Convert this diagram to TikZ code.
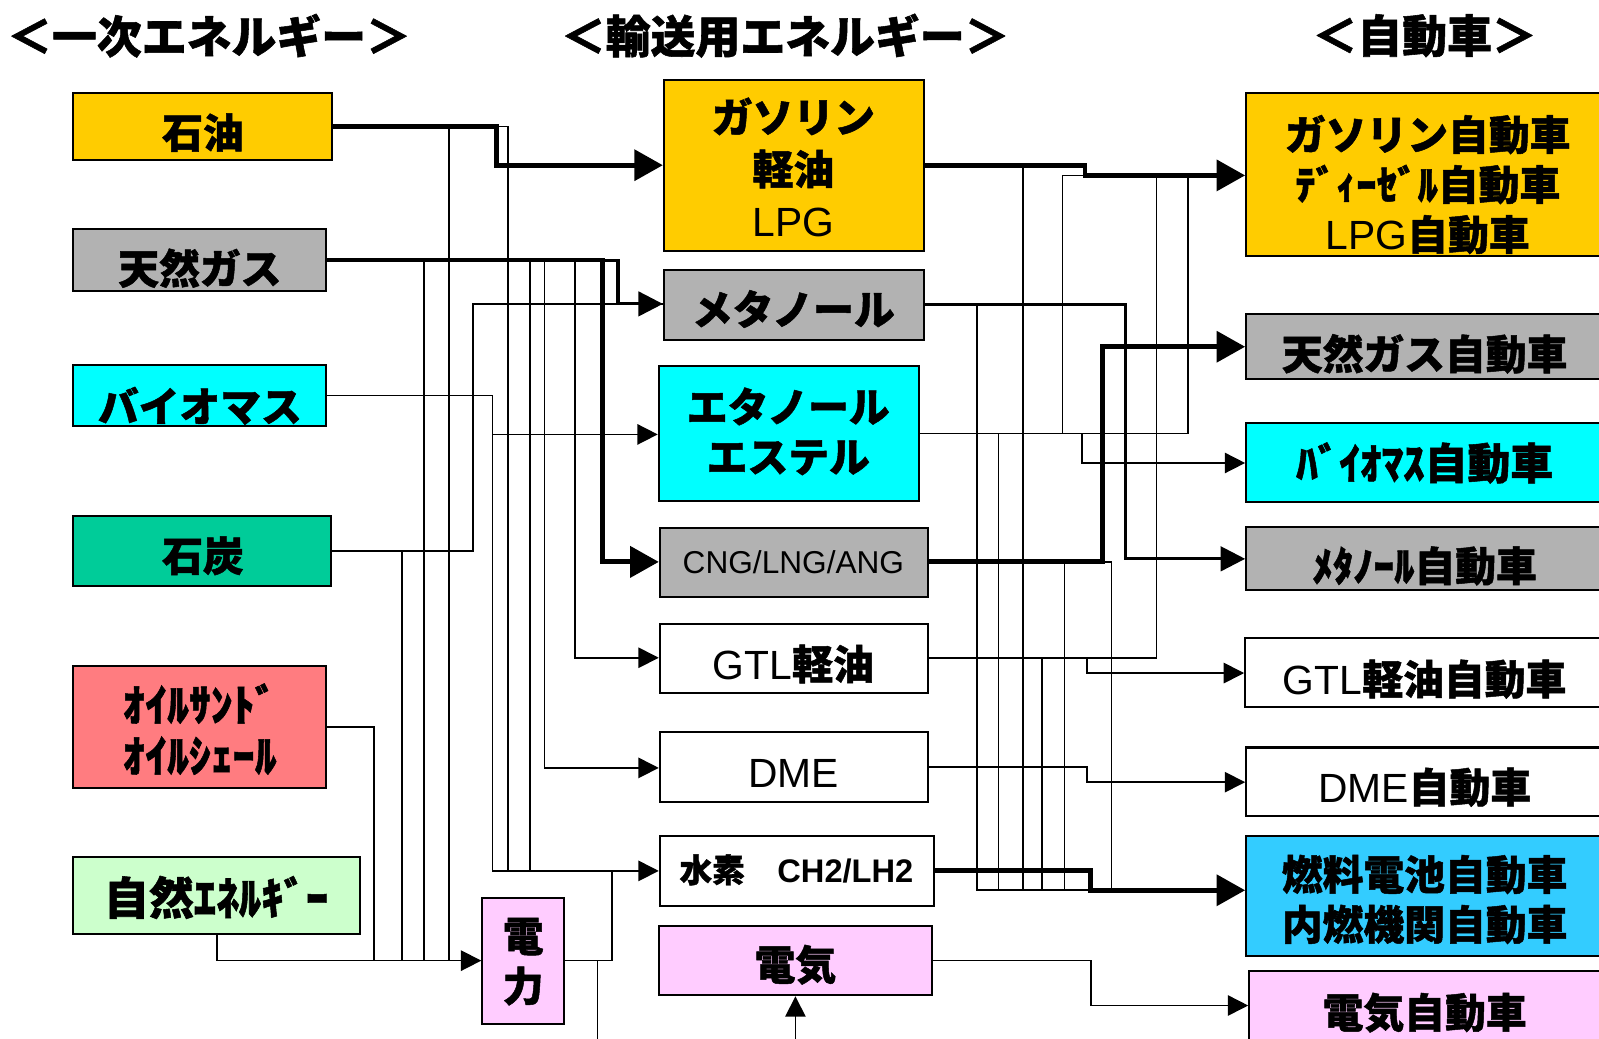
\documentclass[tikz,border=0pt]{standalone}
\usepackage{fontspec}
\setmainfont{Noto Sans CJK JP}[BoldFeatures={FakeBold=1.2}]
\newfontfamily\arial{Liberation Sans}
\usetikzlibrary{arrows.meta,fit}
\definecolor{cYel}{HTML}{FFCC00}
\definecolor{cGry}{HTML}{B2B2B2}
\definecolor{cCyn}{HTML}{00FFFF}
\definecolor{cTeal}{HTML}{00CC99}
\definecolor{cSal}{HTML}{FF7C80}
\definecolor{cLgr}{HTML}{CCFFCC}
\definecolor{cPnk}{HTML}{FFCCFF}
\definecolor{cBlu}{HTML}{33CCFF}
\tikzset{
  box/.style={draw=black,line width=1pt,inner sep=0pt},
  txt/.style={inner sep=0pt,align=center,font=\bfseries\fontsize{20}{24.5}\selectfont},
  ttl/.style={inner sep=0pt,font=\bfseries\fontsize{22}{26}\selectfont},
  tl/.style={line width=0.8pt},
  tk/.style={line width=2.4pt},
  md/.style={line width=1.5pt},
  atl/.style={tl,-{Triangle[length=10pt,width=10pt]}},
  atk/.style={tk,-{Triangle[length=14pt,width=15pt]}},
  amd/.style={md,-{Triangle[length=12pt,width=12pt]}},
}
\begin{document}
\begin{tikzpicture}[x=0.5pt,y=-0.5pt]
\useasboundingbox (0,0) rectangle (1568,1018);
\fill[white] (0,0) rectangle (1568,1018);

% titles
\node[ttl] (t1) at (205,35) {＜一次エネルギー＞};
\node[ttl] (t2) at (770,35) {＜輸送用エネルギー＞};
\node[ttl] (t3) at (1397,35) {＜自動車＞};

% left column
\node[box,fill=cYel,fit={(72,91)(326,157)}] (oil) {};
\node[box,fill=cGry,fit={(72,225)(320,285)}] (ng) {};
\node[box,fill=cCyn,fit={(72,358)(320,418)}] (bio) {};
\node[box,fill=cTeal,fit={(72,506)(325,575)}] (coal) {};
\node[box,fill=cSal,fit={(72,653)(320,773)}] (sand) {};
\node[box,fill=cLgr,fit={(72,840)(353,916)}] (nat) {};
\node[box,fill=cPnk,fit={(473,881)(553,1004)}] (pow) {};

% middle column
\node[box,fill=cYel,fit={(651,78)(906,246)}] (gas) {};
\node[box,fill=cGry,fit={(651,265)(906,333)}] (meth) {};
\node[box,fill=cCyn,fit={(646,359)(901,491)}] (eth) {};
\node[box,fill=cGry,fit={(647,518)(910,585)}] (cng) {};
\node[box,fill=white,fit={(647,612)(910,680)}] (gtl) {};
\node[box,fill=white,fit={(647,718)(910,786)}] (dme) {};
\node[box,fill=white,fit={(647,820)(916,888)}] (h2) {};
\node[box,fill=cPnk,fit={(646,908)(914,976)}] (ele) {};

% right column
\node[box,fill=cYel,fit={(1222,91)(1572,251)}] (cgas) {};
\node[box,fill=cGry,fit={(1222,308)(1572,372)}] (cng2) {};
\node[box,fill=cCyn,fit={(1222,415)(1572,492)}] (cbio) {};
\node[box,fill=cGry,fit={(1222,517)(1572,579)}] (cmeth) {};
\node[box,fill=white,fit={(1221,626)(1572,693)}] (cgtl) {};
\node[box,fill=white,fit={(1222,733)(1572,800)}] (cdme) {};
\node[box,fill=cBlu,fit={(1222,820)(1572,937)}] (cfc) {};
\node[box,fill=cPnk,fit={(1225,952)(1572,1040)}] (cele) {};

% texts
\node[txt] (oilT) at (199,130) {石油};
\node[txt] (ngT) at (196,263) {天然ガス};
\node[txt] (bioT) at (196,398) {バイオマス};
\node[txt] (coalT) at (199,545) {石炭};
\node[txt,font=\bfseries\fontsize{21.5}{25}\selectfont] (sandT) at (196,715) {ｵｲﾙｻﾝﾄﾞ\\ｵｲﾙｼｪｰﾙ};
\node[txt,font=\bfseries\fontsize{22}{25}\selectfont] (natT) at (212,880) {自然ｴﾈﾙｷﾞｰ};
\node[txt] (powT) at (513,943) {電\\力};

\node[txt,font=\bfseries\fontsize{20}{25.5}\selectfont] (gasT) at (778,164) {ガソリン\\軽油\\{\arial\mdseries LPG}};
\node[txt] (methT) at (778,303) {メタノール};
\node[txt] (ethT) at (773,423) {エタノール\\エステル};
\node[txt,font=\arial\fontsize{15.5}{18}\selectfont] (cngT) at (778,551) {CNG/LNG/ANG};
\node[txt] (gtlT) at (778,651) {{\arial\mdseries GTL}軽油};
\node[txt] (dmeT) at (778,758) {\arial\mdseries DME};
\node[txt,font=\bfseries\fontsize{16}{19}\selectfont] (h2T) at (781,853) {水素　{\arial CH2/LH2}};
\node[txt] (eleT) at (780,946) {電気};

\node[txt] (cgasT) at (1400,181) {ガソリン自動車\\ﾃﾞｨｰｾﾞﾙ自動車\\{\arial\mdseries LPG}自動車};
\node[txt] (cng2T) at (1397,347) {天然ガス自動車};
\node[txt,font=\bfseries\fontsize{21}{25}\selectfont] (cbioT) at (1397,454) {ﾊﾞｲｵﾏｽ自動車};
\node[txt] (cmethT) at (1397,555) {ﾒﾀﾉｰﾙ自動車};
\node[txt] (cgtlT) at (1397,666) {{\arial\mdseries GTL}軽油自動車};
\node[txt] (cdmeT) at (1397,772) {{\arial\mdseries DME}自動車};
\node[txt] (cfcT) at (1397,882) {燃料電池自動車\\内燃機関自動車};
\node[txt] (celeT) at (1397,993) {電気自動車};

% ---- primary -> transport fuels
\draw[tl] (oil.east) -| (498,854);
\draw[tl] (oil.east) -| (440,942);
\draw[atk] (oil.east) -| (487,162) -- (gas.west |- 0,162);
\draw[tl] (ng.east) -| (416,942);
\draw[tl] (ng.east) -| (520,854);
\draw[atl] (ng.east) -| (534,753) -- (dme.west |- 0,753);
\draw[atl] (ng.east) -| (564,645) -- (gtl.west |- 0,645);
\draw[tl] (coal.east) -| (464,298) -- (meth.west |- 0,298);
\draw[amd] (ng.east) -| (606,298) -- (meth.west |- 0,298);
\draw[atk] (ng.east) -| (591,551) -- (cng.west |- 0,551);
\draw[atl] (bio.east) -| (483,426) -- (eth.west |- 0,426);
\draw[atl] (bio.east) -| (483,854) -- (h2.west |- 0,854);
\draw[tl] (coal.east) -| (394,942);
\draw[tl] (sand.east) -| (367,942);
\draw[atl] (nat.south) |- (pow.west |- 0,942);
\draw[tl] (pow.east |- 0,942) -| (600,854);
\coordinate (pdown) at (586,1030);
\draw[tl] (pow.east |- 0,942) -| (pdown);
\coordinate (ebot) at (780,1030);
\draw[atl] (ebot) -- (ele.south);

% ---- transport fuels -> vehicles
\draw[tl] (gas.east |- 0,162) -| (1003,873);
\draw[atk] (gas.east |- 0,162) -| (1064,172) -- (cgas.west |- 0,172);
\draw[tl] (meth.east |- 0,299) -| (958,873) -- (1069,873);
\draw[amd] (meth.east |- 0,299) -| (1104,548) -- (cmeth.west |- 0,548);
\draw[tl] (eth.east |- 0,425) -| (1165,172);
\draw[tl] (eth.east |- 0,425) -| (1042,172) -- (1064,172);
\draw[atl] (eth.east |- 0,425) -| (1061,454) -- (cbio.west |- 0,454);
\draw[tl] (eth.east |- 0,425) -| (979,873);
\draw[tl] (cng.east |- 0,551) -| (1090,873);
\draw[tl] (cng.east |- 0,551) -| (1044,873);
\draw[atk] (cng.east |- 0,551) -| (1081,340) -- (cng2.west |- 0,340);
\draw[tl] (gtl.east |- 0,645) -| (1134,172);
\draw[atl] (gtl.east |- 0,645) -| (1066,660) -- (cgtl.west |- 0,660);
\draw[tl] (gtl.east |- 0,645) -| (1022,873);
\draw[atl] (dme.east |- 0,752) -| (1066,767) -- (cdme.west |- 0,767);
\draw[atk] (h2.east |- 0,854) -| (1069,873) -- (cfc.west |- 0,873);
\draw[atl] (ele.east |- 0,942) -| (1070,986) -- (cele.west |- 0,986);
\end{tikzpicture}
\end{document}
